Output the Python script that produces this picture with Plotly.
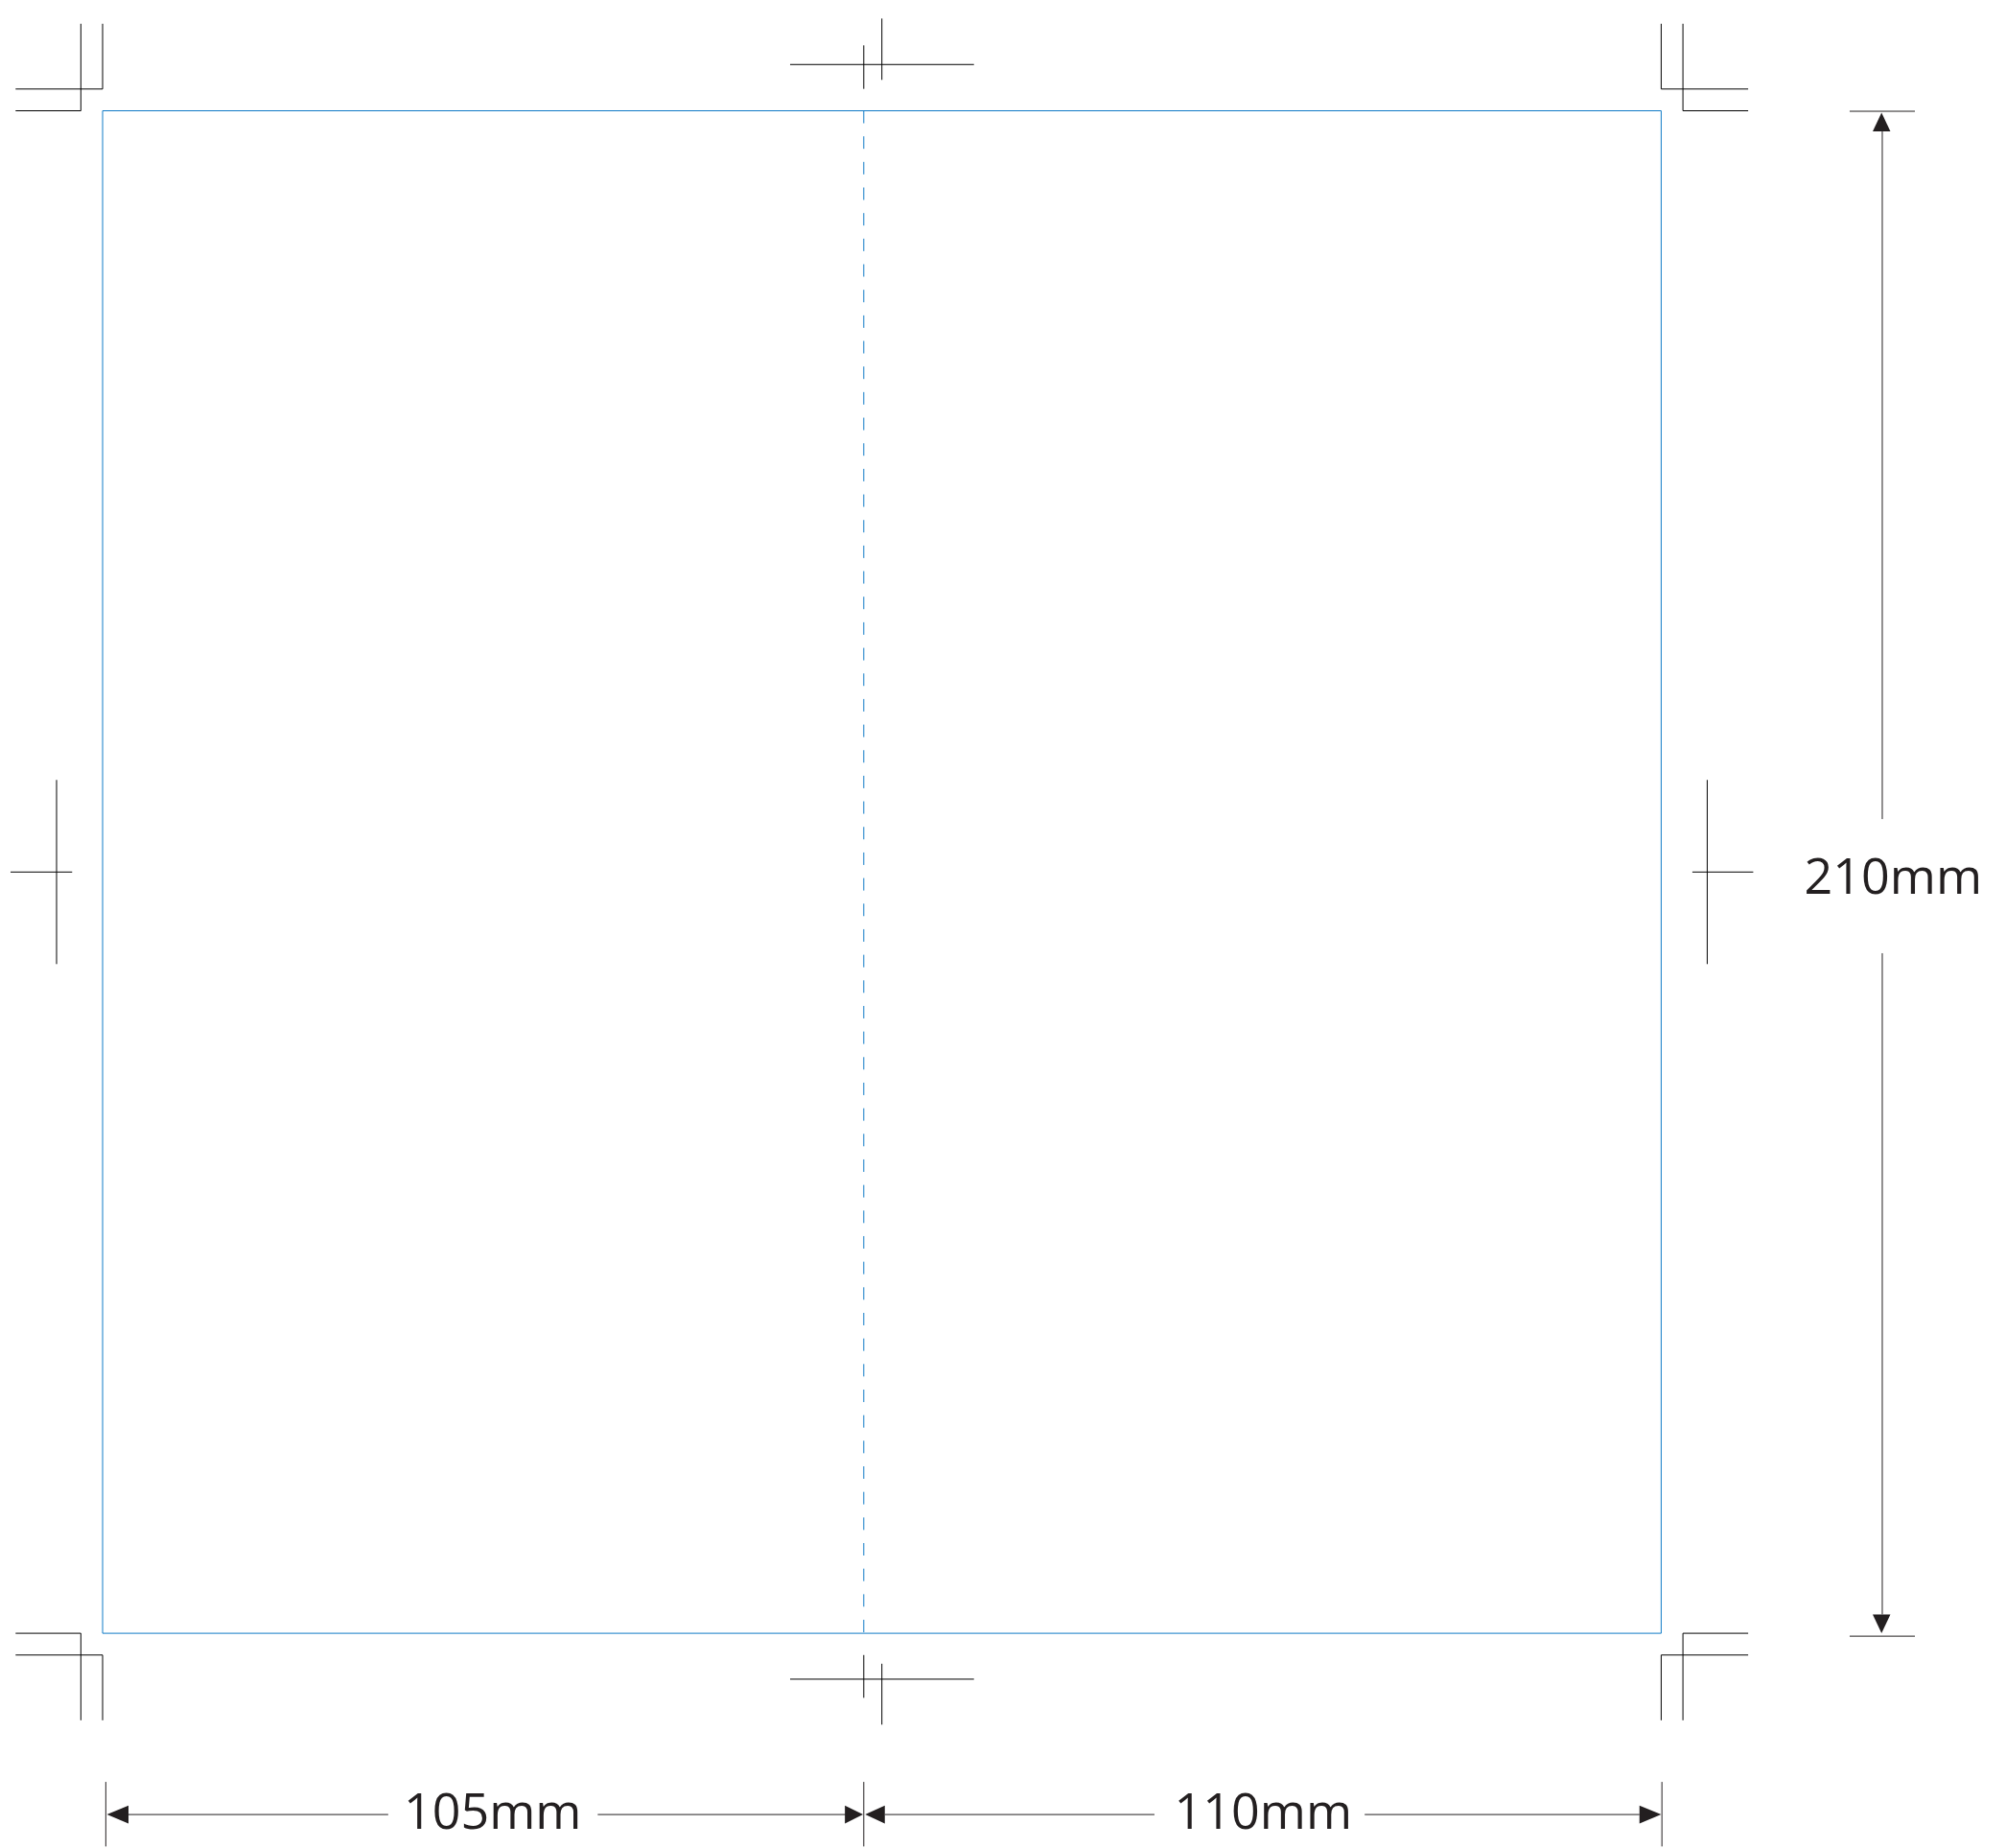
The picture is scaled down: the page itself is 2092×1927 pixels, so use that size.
import plotly.graph_objects as go

# All values in millimetres on the sheet
panel_widths = [105, 110]
panel_height = 210
bleed = 3
mark_reach = 12
labels = ["105mm", "110mm", "210mm"]
label_x = [53.8, 160.1, 247.0]
label_y = [235.3, 235.3, 106.3]

W = sum(panel_widths)
H = panel_height
fold = panel_widths[0]
R = mark_reach
B = bleed

corner_paths = [
    [(-R, 0), (-B, 0), (-B, -R)], [(-R, -B), (0, -B), (0, -R)],
    [(W + R, -B), (W, -B), (W, -R)], [(W + R, 0), (W + B, 0), (W + B, -R)],
    [(-R, H), (-B, H), (-B, H + R)], [(-R, H + B), (0, H + B), (0, H + R)],
    [(W + R, H), (W + B, H), (W + B, H + R)], [(W + R, H + B), (W, H + B), (W, H + R)],
]
centre_paths = [
    [(94.84, -6.38), (120.2, -6.38)], [(fold, -9.02), (fold, -3.02)], [(107.5, -12.72), (107.5, -4.26)],
    [(94.84, 216.33), (120.2, 216.33)], [(fold, 213.0), (fold, 218.9)], [(107.5, 214.2), (107.5, 222.6)],
    [(-6.35, 92.3), (-6.35, 117.7)], [(-12.7, 105), (-4.2, 105)],
    [(221.35, 92.3), (221.35, 117.7)], [(219.3, 105), (227.7, 105)],
]
dimension_paths = [
    [(0.44, 230.5), (0.44, 239.4)], [(fold, 230.5), (fold, 239.4)], [(W + 0.1, 230.5), (W + 0.1, 239.4)],
    [(3.57, 235), (39.4, 235)], [(68.3, 235), (102.5, 235)],
    [(107.9, 235), (145.1, 235)], [(174.1, 235), (212, 235)],
    [(241, 0.07), (250, 0.07)], [(241, 210.4), (250, 210.4)],
    [(245.5, 2.85), (245.5, 97.7)], [(245.5, 116.2), (245.5, 207.4)],
]
arrow_heads = [
    [(0.6, 235), (3.57, 233.77), (3.57, 236.23)],
    [(104.9, 235), (102.4, 233.77), (102.4, 236.23)],
    [(105.2, 235), (107.9, 233.77), (107.9, 236.23)],
    [(W, 235), (212, 233.77), (212, 236.23)],
    [(245.4, 0.26), (244.18, 2.85), (246.62, 2.85)],
    [(245.4, 210.0), (244.18, 207.4), (246.62, 207.4)],
]
trim_rect = [(0, 0), (W, 0), (W, H), (0, H), (0, 0)]
fold_line = [(fold, 0), (fold, H)]


def unzip(paths):
    xs, ys = [], []
    for p in paths:
        xs += [a for a, _ in p] + [None]
        ys += [b for _, b in p] + [None]
    return xs, ys


fig = go.Figure()


def add_lines(paths, color, dash=None):
    xs, ys = unzip(paths)
    fig.add_trace(go.Scatter(x=xs, y=ys, mode="lines", hoverinfo="skip", showlegend=False,
                             line=dict(color=color, width=1, dash=dash)))


INK = "#231f20"
BLUE = "#0f7ac6"
add_lines([fold_line], BLUE, dash="13px,13.67px")
add_lines([trim_rect], BLUE)
add_lines(corner_paths, "#000000")
add_lines(centre_paths, "#000000")
add_lines(dimension_paths, INK)

for head in arrow_heads:
    closed = head + [head[0]]
    fig.add_trace(go.Scatter(x=[a for a, _ in closed], y=[b for _, b in closed], mode="lines",
                             fill="toself", fillcolor=INK, line=dict(width=0),
                             hoverinfo="skip", showlegend=False))

fig.add_trace(go.Scatter(x=label_x, y=label_y, mode="text", text=labels, textposition="middle center",
                         textfont=dict(family="Open Sans", size=52, color=INK),
                         hoverinfo="skip", showlegend=False))

PX_PER_MM = 7.56
LEFT_PX, TOP_PX = 107.0, 115.5
FIG_W, FIG_H = 2092, 1927
fig.update_layout(
    width=FIG_W, height=FIG_H, margin=dict(l=0, r=0, t=0, b=0),
    paper_bgcolor="white", plot_bgcolor="white",
    xaxis=dict(range=[-LEFT_PX / PX_PER_MM, (FIG_W - LEFT_PX) / PX_PER_MM], visible=False, fixedrange=True),
    yaxis=dict(range=[(FIG_H - TOP_PX) / PX_PER_MM, -TOP_PX / PX_PER_MM], visible=False, fixedrange=True),
)
fig.write_html("out.html", config={"displayModeBar": False},
               post_script="document.body.style.margin='0';document.documentElement.style.overflow='hidden';")
